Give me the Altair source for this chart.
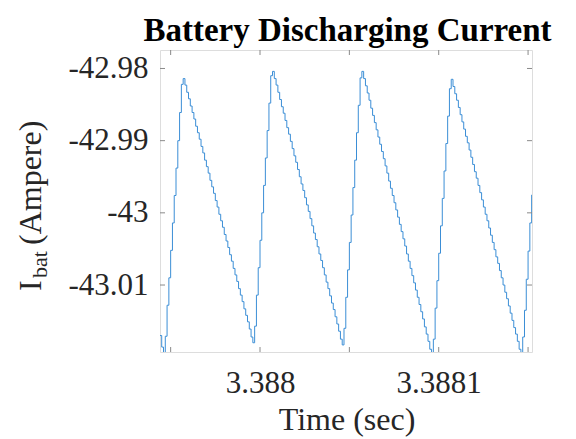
import altair as alt
import pandas as pd

# ---------------- text ----------------
title_text = "Battery Discharging Current"
x_title = "Time (sec)"
y_title_main = "I"
y_title_sub = "bat"
y_title_unit = "(Ampere)"

# ---------------- data ----------------
# sampled battery current, one sample every 1 microsecond, starting at t_first
t_first = 3.387944   # s
t_step = 1e-6        # s

start_segment = [-43.0170, -43.0186, -43.0194]
rise_1 = [-43.0171, -43.0128, -43.0090, -43.0052, -43.0014, -42.9976, -42.9938,
          -42.9900, -42.9861, -42.9822, -42.9814]
fall_1 = [-42.9823, -42.9833, -42.9842, -42.9852, -42.9861, -42.9870, -42.9880, -42.9889,
          -42.9898, -42.9908, -42.9917, -42.9927, -42.9936, -42.9945, -42.9955, -42.9964,
          -42.9973, -42.9983, -42.9992, -43.0002, -43.0011, -43.0020, -43.0030, -43.0039,
          -43.0048, -43.0058, -43.0067, -43.0077, -43.0086, -43.0095, -43.0105, -43.0114,
          -43.0123, -43.0133, -43.0142, -43.0151, -43.0161, -43.0172, -43.0180]
rise_2 = [-43.0157, -43.0114, -43.0076, -43.0038, -43.0000, -42.9962, -42.9924,
          -42.9886, -42.9848, -42.9810, -42.9804]
fall_2 = [-42.9814, -42.9823, -42.9833, -42.9843, -42.9853, -42.9862, -42.9872, -42.9882,
          -42.9891, -42.9901, -42.9911, -42.9921, -42.9930, -42.9940, -42.9950, -42.9960,
          -42.9969, -42.9979, -42.9989, -42.9998, -43.0008, -43.0018, -43.0028, -43.0037,
          -43.0047, -43.0057, -43.0066, -43.0076, -43.0086, -43.0096, -43.0105, -43.0115,
          -43.0125, -43.0134, -43.0144, -43.0154, -43.0164, -43.0175, -43.0183]
rise_3 = [-43.0160, -43.0117, -43.0079, -43.0041, -43.0003, -42.9965, -42.9927,
          -42.9889, -42.9851, -42.9813, -42.9804]
fall_3 = [-42.9814, -42.9824, -42.9834, -42.9844, -42.9855, -42.9865, -42.9875, -42.9885,
          -42.9895, -42.9905, -42.9915, -42.9925, -42.9935, -42.9945, -42.9956, -42.9966,
          -42.9976, -42.9986, -42.9996, -43.0006, -43.0016, -43.0026, -43.0036, -43.0046,
          -43.0057, -43.0067, -43.0077, -43.0087, -43.0097, -43.0107, -43.0117, -43.0127,
          -43.0137, -43.0147, -43.0158, -43.0168, -43.0178, -43.0189, -43.0198]
rise_4 = [-43.0175, -43.0132, -43.0094, -43.0056, -43.0018, -42.9980, -42.9942,
          -42.9904, -42.9866, -42.9828, -42.9815]
fall_4 = [-42.9825, -42.9835, -42.9844, -42.9854, -42.9864, -42.9874, -42.9884, -42.9894,
          -42.9903, -42.9913, -42.9923, -42.9933, -42.9943, -42.9952, -42.9962, -42.9972,
          -42.9982, -42.9992, -43.0002, -43.0011, -43.0021, -43.0031, -43.0041, -43.0051,
          -43.0061, -43.0070, -43.0080, -43.0090, -43.0100, -43.0110, -43.0119, -43.0129,
          -43.0139, -43.0149, -43.0159, -43.0168, -43.0178, -43.0189, -43.0198]
rise_5 = [-43.0172, -43.0135, -43.0092, -43.0053, -43.0014, -42.9975]

current = (start_segment + rise_1 + fall_1 + rise_2 + fall_2 + rise_3 + fall_3
           + rise_4 + fall_4 + rise_5)
time = [round(t_first + i * t_step, 7) for i in range(len(current))]

# axis ranges and ticks
x_domain = [3.38794404, 3.3881522]
y_domain = [-43.01928, -42.97744]
x_ticks = [3.38795, 3.388, 3.38805, 3.3881, 3.38815]
x_tick_labels = [3.388, 3.3881]
y_ticks = [-43.01, -43.0, -42.99, -42.98]

# ---------------- style ----------------
W, H = 372, 302
FONT = "Liberation Serif"
AXIS_COLOR = "#8a8a8a"
TEXT_COLOR = "#262626"
LINE_COLOR = "#3b8ed6"
TICK_LEN = 5

df = pd.DataFrame({"time": time, "current": current})
xs = alt.Scale(domain=x_domain, nice=False, zero=False)
ys = alt.Scale(domain=y_domain, nice=False, zero=False)

x_axis = alt.Axis(values=x_tick_labels, format=".5~f", ticks=False, tickSize=0,
                  domain=False, grid=False, labelFont=FONT, labelFontSize=31,
                  labelColor=TEXT_COLOR, labelPadding=16, labelOverlap=False,
                  labelFlush=False, title=None)
y_axis = alt.Axis(values=y_ticks,
                  labelExpr="(datum.value < 0 ? '-' : '') + format(abs(datum.value), '.2~f')",
                  ticks=False, tickSize=0, domain=False, grid=False, labelFont=FONT,
                  labelFontSize=31, labelColor=TEXT_COLOR, labelPadding=12,
                  labelOverlap=False, labelFlush=False, title=None)

line = alt.Chart(df).mark_line(
    interpolate="step-after", color=LINE_COLOR, strokeWidth=1, clip=True
).encode(
    x=alt.X("time:Q", scale=xs, axis=x_axis),
    y=alt.Y("current:Q", scale=ys, axis=y_axis),
)

xt = pd.DataFrame({"time": x_ticks})
yt = pd.DataFrame({"current": y_ticks})

bottom_ticks = alt.Chart(xt).mark_rule(color=AXIS_COLOR, strokeWidth=1).encode(
    x=alt.X("time:Q", scale=xs, axis=x_axis), y=alt.value(H), y2=alt.value(H - TICK_LEN))
top_ticks = alt.Chart(xt).mark_rule(color=AXIS_COLOR, strokeWidth=1).encode(
    x=alt.X("time:Q", scale=xs, axis=x_axis), y=alt.value(0), y2=alt.value(TICK_LEN))
left_ticks = alt.Chart(yt).mark_rule(color=AXIS_COLOR, strokeWidth=1).encode(
    y=alt.Y("current:Q", scale=ys, axis=y_axis), x=alt.value(0), x2=alt.value(TICK_LEN))
right_ticks = alt.Chart(yt).mark_rule(color=AXIS_COLOR, strokeWidth=1).encode(
    y=alt.Y("current:Q", scale=ys, axis=y_axis), x=alt.value(W), x2=alt.value(W - TICK_LEN))

labels_df = pd.DataFrame({"main": [y_title_main], "sub": [y_title_sub],
                          "unit": [y_title_unit], "xt": [x_title], "tt": [title_text]})

y_main = alt.Chart(labels_df).mark_text(
    font=FONT, fontSize=32, color=TEXT_COLOR, angle=270, align="left", baseline="alphabetic"
).encode(text="main:N", x=alt.value(-119), y=alt.value(241))
y_sub = alt.Chart(labels_df).mark_text(
    font=FONT, fontSize=22, color=TEXT_COLOR, angle=270, align="left", baseline="alphabetic"
).encode(text="sub:N", x=alt.value(-113), y=alt.value(228))
y_unit = alt.Chart(labels_df).mark_text(
    font=FONT, fontSize=32, color=TEXT_COLOR, angle=270, align="left", baseline="alphabetic"
).encode(text="unit:N", x=alt.value(-119), y=alt.value(195))
x_label = alt.Chart(labels_df).mark_text(
    font=FONT, fontSize=32, color=TEXT_COLOR, align="center", baseline="alphabetic"
).encode(text="xt:N", x=alt.value(W / 2 + 1), y=alt.value(380))
title_mark = alt.Chart(labels_df).mark_text(
    font=FONT, fontSize=33, fontWeight="bold", color="black", align="center",
    baseline="alphabetic"
).encode(text="tt:N", x=alt.value(W / 2 + 1.5), y=alt.value(-9))

chart = alt.layer(
    line, bottom_ticks, top_ticks, left_ticks, right_ticks,
    y_main, y_sub, y_unit, x_label, title_mark
).properties(
    width=W, height=H,
    autosize=alt.AutoSizeParams(type="none"),
    padding={"left": 152, "top": 42, "right": 36, "bottom": 85},
).configure_view(
    stroke=AXIS_COLOR, strokeWidth=1
).configure_axis(
    labelFont=FONT, labelFontSize=31, labelColor=TEXT_COLOR
).configure(background="white", font=FONT)

chart.save("out.html", embed_options={"renderer": "svg", "actions": False})
